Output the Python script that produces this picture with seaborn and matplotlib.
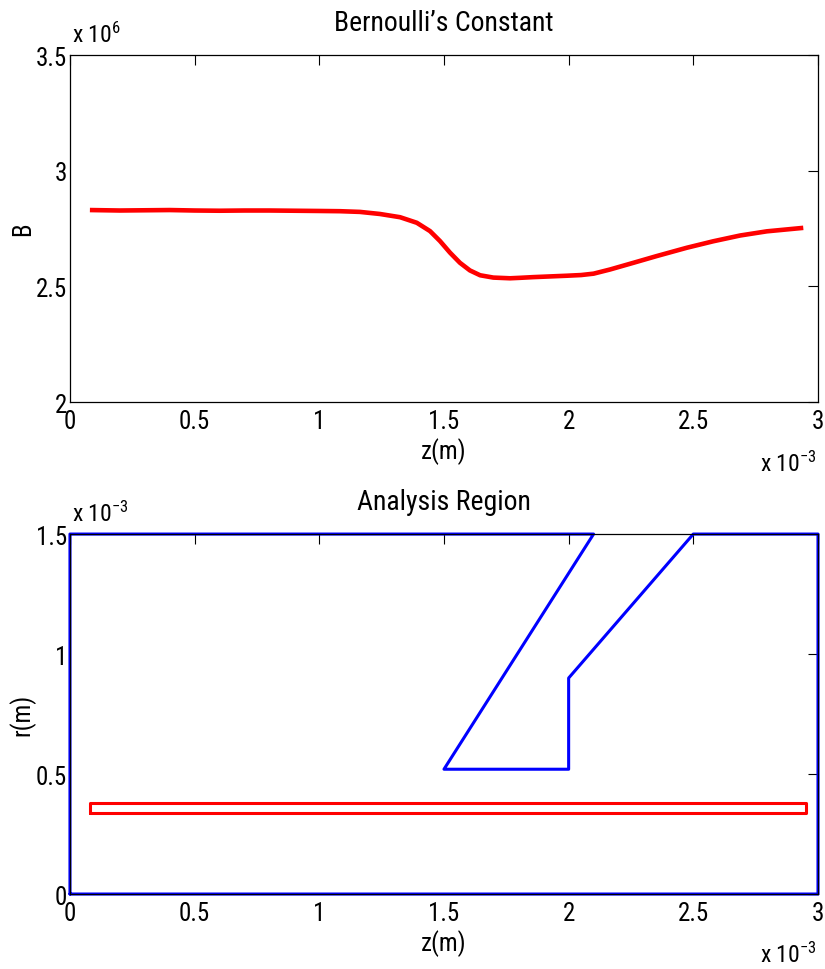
import matplotlib
matplotlib.use("Agg")
import matplotlib.pyplot as plt
from matplotlib.ticker import FuncFormatter, MultipleLocator
import seaborn as sns
import pandas as pd

# Bernoulli's constant along the axis (z in mm, B in units of 1e6)
z_mm = [0.08, 0.2, 0.3, 0.4, 0.5, 0.6, 0.7, 0.8, 0.9, 1.0, 1.083, 1.163, 1.243,
        1.324, 1.391, 1.444, 1.484, 1.524, 1.564, 1.604, 1.645, 1.698, 1.765,
        1.805, 1.858, 1.992, 2.050, 2.100, 2.166, 2.260, 2.353, 2.447, 2.474,
        2.580, 2.688, 2.795, 2.941]
B_e6 = [2.830, 2.828, 2.829, 2.830, 2.828, 2.827, 2.828, 2.828, 2.827, 2.826,
        2.825, 2.822, 2.813, 2.799, 2.775, 2.739, 2.696, 2.646, 2.602, 2.569,
        2.548, 2.538, 2.535, 2.537, 2.540, 2.546, 2.549, 2.555, 2.573, 2.602,
        2.631, 2.659, 2.667, 2.695, 2.720, 2.738, 2.753]

# Analysis region boundary (z, r in mm)
region_z = [0.0, 0.0, 2.1, 1.5, 2.0, 2.0, 2.5, 3.0, 3.0, 0.0]
region_r = [0.0, 1.5, 1.5, 0.52, 0.52, 0.9, 1.5, 1.5, 0.0, 0.0]

# Streamline band used for the evaluation of B (z, r in mm)
band_z = [0.08, 2.95, 2.95, 0.08, 0.08]
band_r = [0.337, 0.337, 0.381, 0.381, 0.337]

sns.set_style("white")
plt.rcParams["font.family"] = ["Roboto Condensed", "Liberation Sans Narrow",
                               "Liberation Sans", "DejaVu Sans"]
plt.rcParams["mathtext.fontset"] = "custom"
plt.rcParams["mathtext.rm"] = "Roboto Condensed"
plt.rcParams["mathtext.it"] = "Roboto Condensed"
plt.rcParams["text.color"] = "black"
plt.rcParams["axes.labelcolor"] = "black"

FS = 18

fig = plt.figure(figsize=(8.25, 9.7), dpi=100)
ax1 = fig.add_axes([0.0848, 0.5845, 0.9067, 0.3577])
ax2 = fig.add_axes([0.0848, 0.0773, 0.9067, 0.3711])

df_b = pd.DataFrame({"z": [v * 1e-3 for v in z_mm], "B": [v * 1e6 for v in B_e6]})
sns.lineplot(data=df_b, x="z", y="B", ax=ax1, color="#ff0000", linewidth=3.3,
             sort=False, estimator=None, solid_capstyle="butt",
             solid_joinstyle="round")

df_reg = pd.DataFrame({"z": [v * 1e-3 for v in region_z], "r": [v * 1e-3 for v in region_r]})
sns.lineplot(data=df_reg, x="z", y="r", ax=ax2, color="#0000ff", linewidth=2.2,
             sort=False, estimator=None, clip_on=False)
df_band = pd.DataFrame({"z": [v * 1e-3 for v in band_z], "r": [v * 1e-3 for v in band_r]})
sns.lineplot(data=df_band, x="z", y="r", ax=ax2, color="#ff0000", linewidth=2.2,
             sort=False, estimator=None)

fmt3 = FuncFormatter(lambda v, p: f"{v * 1e3:g}")
fmt6 = FuncFormatter(lambda v, p: f"{v / 1e6:g}")

for ax in (ax1, ax2):
    ax.set_xlim(0, 3e-3)
    ax.xaxis.set_major_locator(MultipleLocator(0.5e-3))
    ax.xaxis.set_major_formatter(fmt3)
    ax.tick_params(direction="in", length=7, width=0.8, top=True, right=True,
                   labelsize=FS, colors="black")
    ax.tick_params(axis="y", pad=2)
    ax.tick_params(axis="x", pad=5)
    for s in ax.spines.values():
        s.set_color("black")
        s.set_linewidth(0.9)
    ax.set_xlabel("z(m)", fontsize=FS, labelpad=3)

ax1.set_ylim(2e6, 3.5e6)
ax1.yaxis.set_major_locator(MultipleLocator(0.5e6))
ax1.yaxis.set_major_formatter(fmt6)
ax1.set_ylabel("B", fontsize=FS)
ax1.yaxis.set_label_coords(-0.046, 0.5)
ax1.set_title("Bernoulli\u2019s Constant", fontsize=FS + 2, pad=18)

ax2.set_ylim(0, 1.5e-3)
ax2.yaxis.set_major_locator(MultipleLocator(0.5e-3))
ax2.yaxis.set_major_formatter(fmt3)
ax2.set_ylabel("r(m)", fontsize=FS)
ax2.yaxis.set_label_coords(-0.046, 0.5)
ax2.set_title("Analysis Region", fontsize=FS + 2, pad=18)

# Axis multipliers
ax1.text(0.003, 1.037, r"x 10$^{6}$", transform=ax1.transAxes, fontsize=FS - 1,
         ha="left", va="baseline")
ax1.text(0.998, -0.198, r"x 10$^{-3}$", transform=ax1.transAxes, fontsize=FS - 1,
         ha="right", va="baseline")
ax2.text(0.003, 1.036, r"x 10$^{-3}$", transform=ax2.transAxes, fontsize=FS - 1,
         ha="left", va="baseline")
ax2.text(0.998, -0.188, r"x 10$^{-3}$", transform=ax2.transAxes, fontsize=FS - 1,
         ha="right", va="baseline")

fig.savefig("out.png", dpi=100)
